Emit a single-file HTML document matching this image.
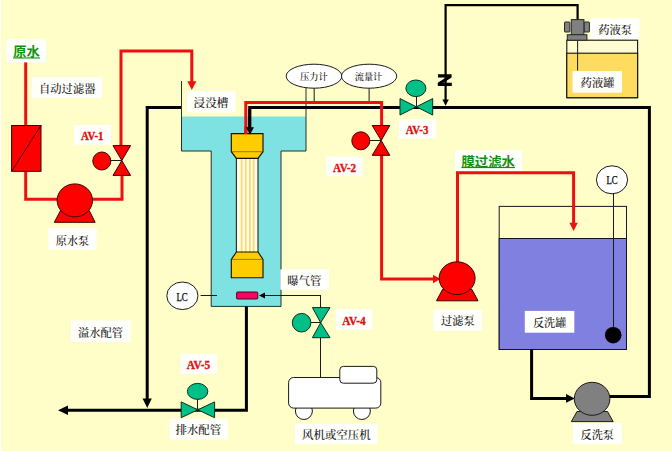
<!DOCTYPE html>
<html lang="zh-CN">
<head>
<meta charset="utf-8">
<title>膜过滤系统流程图</title>
<style>
html,body{margin:0;padding:0;background:#fffdc8;}
body{width:672px;height:454px;overflow:hidden;position:relative;}
svg{display:block;position:absolute;left:0;top:0;}
.lb{font-family:"Liberation Serif","Noto Serif CJK SC",serif;font-size:11px;font-weight:500;fill:#111;}
.av{font-family:"Liberation Serif","Noto Serif CJK SC",serif;font-size:12.5px;font-weight:bold;fill:#dc1010;stroke:#dc1010;stroke-width:0.35;}
.gr{font-family:"Liberation Sans","Noto Sans CJK SC",sans-serif;font-size:13px;font-weight:bold;fill:#109010;}
.lc{font-family:"Liberation Serif","Noto Serif CJK SC",serif;font-size:12.5px;fill:#000;stroke:#000;stroke-width:0.25;}
.bx{fill:#fffffb;}
.rl{fill:none;stroke:#ee1010;stroke-width:3;stroke-linejoin:miter;}
.bl{fill:none;stroke:#000;stroke-width:3;stroke-linejoin:miter;}
.tl{fill:none;stroke:#1a1a1a;stroke-width:1;}
.rf{fill:#ff0000;stroke:#3c0000;stroke-width:1;}
.gf{fill:#00c088;stroke:#07301f;stroke-width:1;}
.wf{fill:#ffffff;stroke:#1a1a1a;stroke-width:1;}
</style>
</head>
<body>
<svg width="672" height="454" viewBox="0 0 672 454">
<rect x="0" y="0" width="672" height="454" fill="#fffdc8"/>
<rect x="0" y="0" width="1" height="454" fill="#ffffff"/>
<rect x="0" y="451" width="672" height="3" fill="#ffffff"/>

<!-- ===== label boxes ===== -->
<g class="bx">
<rect x="6.3" y="39.2" width="40" height="23.2"/>
<rect x="31.8" y="77.2" width="70.5" height="20.8"/>
<rect x="74" y="125" width="37" height="19.8"/>
<rect x="187" y="91" width="48.6" height="21.5"/>
<rect x="48.3" y="228" width="48.4" height="21.6"/>
<rect x="71" y="320.4" width="59.6" height="21.6"/>
<rect x="180.6" y="353.8" width="36.4" height="20.1"/>
<rect x="169.6" y="418.6" width="58.5" height="21"/>
<rect x="280.3" y="269.4" width="48.4" height="20.4"/>
<rect x="336.2" y="308.9" width="36.1" height="20.8"/>
<rect x="325.8" y="156.5" width="36.8" height="19.8"/>
<rect x="398.8" y="119" width="37.2" height="19.6"/>
<rect x="455" y="150.2" width="67.2" height="20.9"/>
<rect x="433.4" y="309.6" width="48.8" height="21.2"/>
<rect x="294.8" y="423.6" width="82.6" height="20.6"/>
<rect x="573" y="422.9" width="49" height="21.3"/>
<rect x="590.2" y="18.1" width="49.4" height="21.6"/>
</g>

<!-- ===== immersion tank ===== -->
<path d="M181.5 116.6 H306 V151 H281 V306.4 H211.2 V151 H181.5 Z" fill="#7fe2e2" stroke="none"/>
<path d="M181.5 81 V151 H211.2 V306.4 H281 V151 H306 V88" class="tl" style="stroke:#22332a"/>

<rect x="280.3" y="269.4" width="48.4" height="20.4" class="bx"/>

<!-- backwash tank -->
<rect x="499.2" y="206.4" width="127.3" height="143" fill="none" class="tl"/>
<rect x="499.2" y="238.5" width="127.3" height="111" fill="#8080e0" stroke="#101030" stroke-width="1"/>
<rect x="524.8" y="310.9" width="49.5" height="21.8" class="bx"/>

<!-- chemical tank -->
<rect x="566.8" y="40.2" width="70.8" height="57.5" fill="#fffdd0" stroke="#111" stroke-width="1.1"/>
<rect x="566.8" y="53.2" width="70.8" height="44.5" fill="#ffdc60" stroke="#111" stroke-width="1.1"/>
<rect x="572.6" y="71.1" width="49.4" height="21.6" class="bx"/>
<line x1="577.6" y1="40" x2="577.6" y2="70.5" class="tl"/>

<!-- ===== gauges ===== -->
<line x1="314.2" y1="88" x2="314.2" y2="102" class="tl"/>
<line x1="369.1" y1="88" x2="369.1" y2="102" class="tl"/>
<ellipse cx="314" cy="76.2" rx="27.8" ry="12" class="wf"/>
<ellipse cx="369.1" cy="76.2" rx="27.6" ry="12" class="wf"/>

<!-- ===== black pipes ===== -->
<path d="M181 107.6 H147.2 V400" class="bl"/>
<path d="M147.2 408 L142.6 398.6 H151.8 Z" fill="#000"/>
<path d="M246.4 306.6 V410.3 H67" class="bl"/>
<path d="M58 410.3 L68 405.6 V415 Z" fill="#000"/>
<path d="M249.7 127.5 V107.5 H649.4 V396.6 H609" class="bl"/>
<path d="M531.6 349.5 V398.4 H567" class="bl"/>
<path d="M574.8 398.4 L566 394 V402.8 Z" fill="#000"/>
<path d="M445.6 100.5 V5.2 H577.6 V20" fill="none" stroke="#000" stroke-width="2.2"/>
<path d="M445.6 105.8 L442.4 99.6 H448.8 Z" fill="#000"/>
<path d="M438 74.2 H451.6 V77.4 L443.4 82.8 H451.8 V86 H437.8 V82.8 L446 77.4 H438 Z" fill="#000"/>

<!-- ===== red pipes ===== -->
<path d="M25.7 62.4 V126" class="rl"/>
<path d="M25.7 171 V199.3 H60" class="rl"/>
<path d="M90 199.3 H122 V175" class="rl"/>
<path d="M121 146 V51 H191.8 V82.5" class="rl"/>
<path d="M191.8 90 L187.3 81.3 H196.4 Z" fill="#ee1010"/>
<path d="M245.8 134 V102.6 H381.6 V126" class="rl"/>
<path d="M381.6 155 V279 H434" class="rl"/>
<path d="M440.5 279 L433 274.8 V283.2 Z" fill="#ee1010"/>
<path d="M457.5 262 V172.8 H573.6 V224" class="rl"/>
<path d="M573.6 231 L569.4 222.8 H577.8 Z" fill="#ee1010"/>

<!-- ===== raw water filter ===== -->
<rect x="11.6" y="125.5" width="29.4" height="45.8" class="rf"/>
<line x1="11.6" y1="171.3" x2="41" y2="125.5" stroke="#300" stroke-width="0.9"/>

<!-- raw pump -->
<path d="M60.5 210.5 L54.3 222.3 H95.2 L89.2 210.5 Z" class="rf"/>
<ellipse cx="74.8" cy="200.4" rx="17.7" ry="16.5" class="rf"/>

<!-- AV-1 -->
<line x1="101" y1="160.5" x2="121.8" y2="160.5" class="tl"/>
<path d="M113 145.6 H130.6 L121.8 160.5 L130.6 175.4 H113 L121.8 160.5 Z" class="rf"/>
<circle cx="101.8" cy="161" r="9" class="rf"/>

<!-- AV-2 -->
<line x1="361" y1="140.5" x2="381.2" y2="140.5" class="tl"/>
<path d="M372.2 125.5 H389.8 L381.2 140.4 L389.8 155.3 H372.2 L381.2 140.4 Z" class="rf"/>
<circle cx="360.8" cy="140.8" r="9" class="rf"/>

<!-- filter pump -->
<path d="M442.5 289.5 L436.5 300.8 H478 L472 289.5 Z" class="rf"/>
<ellipse cx="457.1" cy="278.2" rx="18" ry="16.4" class="rf"/>

<!-- AV-3 -->
<line x1="416.5" y1="90" x2="416.5" y2="107" class="tl"/>
<path d="M400 98.6 L416.3 106.8 L432.7 98.6 V115 L416.3 106.8 L400 115 Z" class="gf"/>
<ellipse cx="415.9" cy="88.3" rx="10" ry="8.3" class="gf"/>

<!-- AV-4 -->
<path d="M320.5 295.6 V308 M320.5 337 V378" class="tl"/>
<line x1="302" y1="322.5" x2="320.7" y2="322.5" class="tl"/>
<path d="M312.4 307.6 H330 L320.7 322.7 L330 337.7 H312.4 L320.7 322.7 Z" class="gf"/>
<circle cx="301.6" cy="322.7" r="9.3" class="gf"/>

<!-- AV-5 -->
<line x1="197.5" y1="392" x2="197.5" y2="409.6" class="tl"/>
<path d="M181.2 401.9 L197.8 409.8 L214.6 401.9 V417.7 L197.8 409.8 L181.2 417.7 Z" class="gf"/>
<ellipse cx="197.6" cy="391.4" rx="10.2" ry="8" class="gf"/>

<!-- ===== membrane module ===== -->
<rect x="236.4" y="158" width="21.6" height="95" fill="#fffce4" stroke="#1f2a1a" stroke-width="1.1"/>
<g stroke="#f6d878" stroke-width="1.7">
<line x1="241.6" y1="159" x2="241.6" y2="252"/>
<line x1="245.7" y1="159" x2="245.7" y2="252"/>
<line x1="249.9" y1="159" x2="249.9" y2="252"/>
<line x1="253.6" y1="159" x2="253.6" y2="252"/>
</g>
<path d="M231.3 133.6 H263 V151.7 L258 158.4 H236.4 L231.3 151.7 Z" fill="#ffcc00" stroke="#1a1200" stroke-width="1.15"/>
<line x1="231.3" y1="151.7" x2="263" y2="151.7" stroke="#5a4500" stroke-width="0.6"/>
<path d="M236.4 252 H258 L263 259.4 V277.7 H231.3 V259.4 Z" fill="#ffcc00" stroke="#1a1200" stroke-width="1.15"/>
<line x1="231.3" y1="259.4" x2="263" y2="259.4" stroke="#5a4500" stroke-width="0.6"/>
<path d="M245.8 134 V126" class="rl"/>
<path d="M249.9 134.8 L245.9 127.3 H254 Z" fill="#000"/>
<path d="M249.7 128 V109" class="bl"/>

<!-- aeration tube -->
<rect x="236.6" y="292" width="21.2" height="7" rx="1" fill="#ff0066" stroke="#300" stroke-width="0.9"/>
<line x1="264" y1="295.5" x2="321" y2="295.5" class="tl"/>
<path d="M259 295.6 L265 292.6 V298.6 Z" fill="#000"/>

<!-- LC left -->
<line x1="200.6" y1="295.5" x2="217" y2="295.5" class="tl"/>
<ellipse cx="182.4" cy="295.8" rx="15.6" ry="13.8" class="wf"/>
<!-- LC right -->
<line x1="613.5" y1="193" x2="613.5" y2="335" class="tl"/>
<ellipse cx="612" cy="179.8" rx="15.6" ry="14" class="wf"/>
<circle cx="613.2" cy="335.2" r="8.3" fill="#000"/>

<!-- backwash pump -->
<path d="M577 411.5 L571.3 421.6 H613.2 L607.5 411.5 Z" fill="#808080" stroke="#1a1a1a" stroke-width="1"/>
<ellipse cx="592.1" cy="398.8" rx="17.8" ry="16.5" fill="#808080" stroke="#1a1a1a" stroke-width="1"/>

<!-- chemical pump -->
<g fill="#808080" stroke="#262626" stroke-width="1">
<rect x="564.5" y="22" width="5.4" height="10" rx="0.6"/>
<rect x="584" y="22" width="5.4" height="10" rx="0.6"/>
<rect x="571.3" y="19.6" width="12.6" height="15.5"/>
<rect x="567.3" y="34.7" width="19.6" height="5.5"/>
</g>

<!-- compressor -->
<circle cx="303.9" cy="411" r="8.5" class="wf"/>
<circle cx="361.9" cy="411" r="8.5" class="wf"/>
<rect x="288.6" y="377.5" width="92.2" height="30.6" rx="5" class="wf"/>
<rect x="339.8" y="366.4" width="37" height="16.8" rx="3.5" class="wf"/>

<!-- ===== text ===== -->
<text class="gr" x="13.2" y="56.2" textLength="26.6" lengthAdjust="spacingAndGlyphs" style="font-size:13px">原水</text>
<rect x="13" y="57.4" width="27" height="1.1" fill="#109010"/>
<text class="gr" x="461.4" y="166.2" textLength="53.6" lengthAdjust="spacingAndGlyphs">膜过滤水</text>
<rect x="461.4" y="167" width="53.6" height="1.1" fill="#109010"/>

<text class="lb" x="39" y="92.8" textLength="56.5" lengthAdjust="spacingAndGlyphs">自动过滤器</text>
<text class="lb" x="193.6" y="107.3" textLength="34.7" lengthAdjust="spacingAndGlyphs">浸没槽</text>
<text class="lb" x="55.8" y="245.2" textLength="33.4" lengthAdjust="spacingAndGlyphs">原水泵</text>
<text class="lb" x="77.9" y="336.8" textLength="45.1" lengthAdjust="spacingAndGlyphs">溢水配管</text>
<text class="lb" x="175.5" y="434.3" textLength="45.7" lengthAdjust="spacingAndGlyphs">排水配管</text>
<text class="lb" x="287.3" y="284.8" textLength="33.9" lengthAdjust="spacingAndGlyphs">曝气管</text>
<text class="lb" x="441" y="325.3" textLength="33.6" lengthAdjust="spacingAndGlyphs">过滤泵</text>
<text class="lb" x="302" y="439.4" textLength="68.7" lengthAdjust="spacingAndGlyphs">风机或空压机</text>
<text class="lb" x="580.6" y="439" textLength="33.4" lengthAdjust="spacingAndGlyphs">反洗泵</text>
<text class="lb" x="532.9" y="326.8" textLength="33.4" lengthAdjust="spacingAndGlyphs">反洗罐</text>
<text class="lb" x="598.2" y="34" textLength="33.8" lengthAdjust="spacingAndGlyphs">药液泵</text>
<text class="lb" x="580.6" y="87.2" textLength="33.9" lengthAdjust="spacingAndGlyphs">药液罐</text>
<text class="lb" x="300" y="79.6" textLength="27.8" lengthAdjust="spacingAndGlyphs" style="font-size:9.4px">压力计</text>
<text class="lb" x="354.8" y="79.6" textLength="27.4" lengthAdjust="spacingAndGlyphs" style="font-size:9.4px">流量计</text>
<text class="lc" x="176.4" y="301" textLength="11.4" lengthAdjust="spacingAndGlyphs">LC</text>
<text class="lc" x="606.4" y="183.6" textLength="11.2" lengthAdjust="spacingAndGlyphs">LC</text>

<text class="av" x="81" y="140" textLength="22.5" lengthAdjust="spacingAndGlyphs">AV-1</text>
<text class="av" x="333" y="172" textLength="23.2" lengthAdjust="spacingAndGlyphs">AV-2</text>
<text class="av" x="405.8" y="133.5" textLength="22.6" lengthAdjust="spacingAndGlyphs">AV-3</text>
<text class="av" x="342.3" y="325.2" textLength="23.3" lengthAdjust="spacingAndGlyphs">AV-4</text>
<text class="av" x="186.8" y="369.4" textLength="23.4" lengthAdjust="spacingAndGlyphs">AV-5</text>
</svg>
</body>
</html>
